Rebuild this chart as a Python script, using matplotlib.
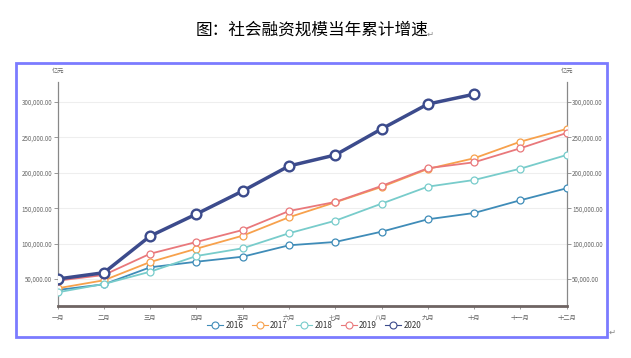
import matplotlib.pyplot as plt
from matplotlib.patches import Rectangle

plt.rcParams['font.family'] = ['Noto Sans CJK SC', 'DejaVu Sans']

months = ['一月', '二月', '三月', '四月', '五月', '六月',
          '七月', '八月', '九月', '十月', '十一月', '十二月']

# 亿元
y2016 = [34500, 42500, 66500, 74400, 81500, 97600, 102300, 116800, 134300, 143200, 161200, 178100]
y2017 = [36900, 48200, 74000, 92800, 111200, 137200, 158300, 180000, 205400, 220500, 243900, 261900]
y2018 = [31200, 43000, 60300, 82500, 93400, 114600, 132300, 156400, 180400, 189800, 205800, 225100]
y2019 = [47600, 55700, 85700, 102300, 119200, 146000, 158800, 181400, 206400, 214800, 234600, 256200]
y2020 = [50000, 58900, 110700, 141800, 174300, 209600, 225100, 261900, 297000, 310900]

yticks = [50000, 100000, 150000, 200000, 250000, 300000]

series = [
    ('2016', y2016, '#3f8cb8'),
    ('2017', y2017, '#f7a14c'),
    ('2018', y2018, '#78cccb'),
    ('2019', y2019, '#e9787b'),
]

fig = plt.figure(figsize=(6.31, 3.58), dpi=100)
ax = fig.add_axes([0.0914, 0.1453, 0.8066, 0.6267])

x = list(range(len(months)))
for name, vals, col in series:
    ax.plot(x[:len(vals)], vals, color=col, lw=1.3, marker='o', ms=5,
            mfc='white', mec=col, mew=0.9, label=name, zorder=3)
ax.plot(x[:len(y2020)], y2020, color='#3c4b8c', lw=2.5, marker='o', ms=7,
        mfc='white', mec='#3c4b8c', mew=1.7, label='2020', zorder=4)

ax.set_xlim(0, 11)
ax.set_ylim(11900, 328700)
ax.set_xticks(x)
ax.set_xticklabels(months, fontsize=4.5, color='#666666')
ax.set_yticks(yticks)
ax.set_yticklabels(['{:,.2f}'.format(v) for v in yticks], fontsize=4.5, color='#666666')
ax.tick_params(axis='y', length=3, width=0.6, color='#888888', pad=1,
               left=True, right=True, labelright=True)
ax.tick_params(axis='x', length=2.5, width=0.6, color='#888888', pad=3)

ax.grid(axis='y', color='#eeeeee', lw=0.8)
ax.set_axisbelow(True)
for s in ['left', 'right']:
    ax.spines[s].set_color('#888888')
    ax.spines[s].set_linewidth(0.9)
ax.spines['top'].set_visible(False)
ax.spines['bottom'].set_color('#6e6462')
ax.spines['bottom'].set_linewidth(2.0)

ax.text(0.0, 1.03, '亿元', transform=ax.transAxes, fontsize=4.5,
        color='#666666', ha='center', va='bottom')
ax.text(1.0, 1.03, '亿元', transform=ax.transAxes, fontsize=4.5,
        color='#666666', ha='center', va='bottom')

leg = ax.legend(loc='center', bbox_to_anchor=(0.504, -0.087), ncol=5,
                fontsize=5.8, frameon=False, handlelength=2.0,
                columnspacing=1.0, handletextpad=0.3, borderaxespad=0)
for h in leg.legend_handles:
    h.set_linewidth(0.8)
    h.set_markersize(5)
    h.set_markeredgewidth(0.8)
for t in leg.get_texts():
    t.set_color('#333333')

# blue frame around the chart
fig.patches.append(Rectangle((16 / 631, 1 - 336.7 / 358), 590.7 / 631, 273.7 / 358,
                             transform=fig.transFigure, fill=False,
                             edgecolor='#7b7bff', lw=2.0))

fig.text(0.494, 0.916, '图：社会融资规模当年累计增速', fontsize=12,
         ha='center', va='center', color='black', fontweight='medium')
fig.text(0.676, 0.905, '↵', fontsize=6, ha='left', va='center', color='#888888')
fig.text(0.964, 0.072, '↵', fontsize=6, ha='left', va='center', color='#888888')

fig.savefig('out.png', dpi=100)
